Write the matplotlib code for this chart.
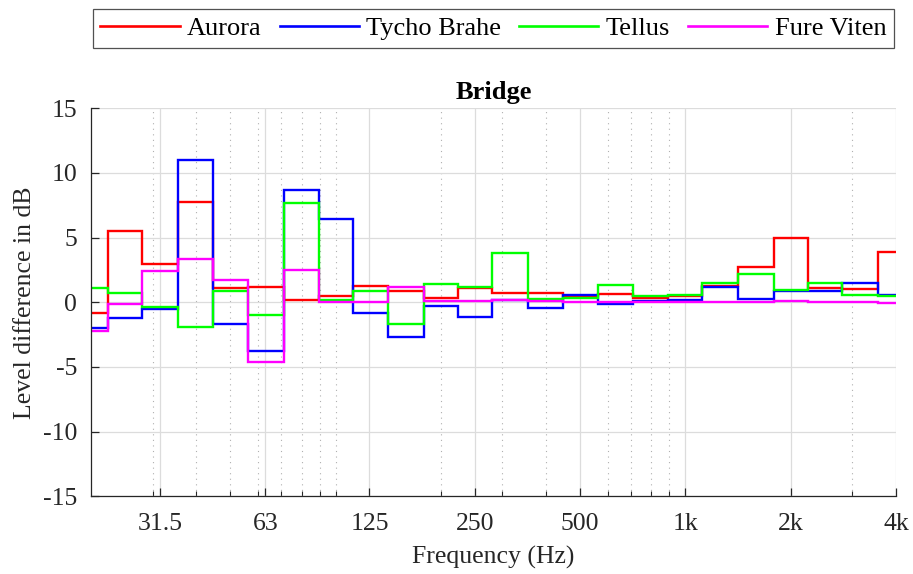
import numpy as np
import matplotlib
matplotlib.use("Agg")
import matplotlib.pyplot as plt
from matplotlib.ticker import FixedLocator, NullFormatter

plt.rcParams['font.family'] = ['Liberation Serif', 'DejaVu Serif']
plt.rcParams['axes.unicode_minus'] = False

# Third-octave band centre frequencies (Hz)
bands = [20, 25, 31.5, 40, 50, 63, 80, 100, 125, 160, 200, 250, 315, 400,
         500, 630, 800, 1000, 1250, 1600, 2000, 2500, 3150, 4000]

# Level difference per band (dB)
aurora = [-0.8, 5.5, 3.0, 7.75, 1.1, 1.15, 0.2, 0.5, 1.25, 0.85, 0.35, 1.1,
          0.75, 0.75, 0.45, 0.65, 0.3, 0.45, 1.25, 2.7, 4.95, 1.1, 1.05, 3.9]
tycho_brahe = [-2.0, -1.25, -0.55, 11.0, -1.7, -3.75, 8.65, 6.45, -0.8, -2.7,
               -0.3, -1.1, 0.15, -0.45, 0.6, -0.15, 0.1, 0.2, 1.15, 0.25,
               0.85, 0.85, 1.5, 0.6]
tellus = [1.1, 0.7, -0.4, -1.9, 0.9, -1.0, 7.7, 0.2, 0.85, -1.7, 1.4, 1.2,
          3.85, 0.25, 0.3, 1.35, 0.5, 0.6, 1.5, 2.15, 0.95, 1.5, 0.55, 0.5]
fure_viten = [-2.2, -0.15, 2.4, 3.35, 1.75, -4.6, 2.5, 0.05, 0.05, 1.2, 0.1,
              0.1, 0.15, 0.1, 0.0, 0.0, 0.0, 0.0, 0.05, 0.05, 0.1, 0.05,
              0.05, -0.05]

series_names = ["Aurora", "Tycho Brahe", "Tellus", "Fure Viten"]
series_colors = ["#ff0000", "#0000ff", "#00ff00", "#ff00ff"]

tick_freqs = [31.5, 63, 125, 250, 500, 1000, 2000, 4000]
tick_labels = ["31.5", "63", "125", "250", "500", "1k", "2k", "4k"]
minor_freqs = [30, 40, 50, 60, 70, 80, 90, 100, 200, 300, 400, 600, 700,
               800, 900, 3000]

# Band edges: geometric means between neighbouring centres
c = np.array(bands, dtype=float)
inner = np.sqrt(c[:-1] * c[1:])
edges = np.concatenate([[c[0] / 2 ** (1 / 6)], inner, [c[-1] * 2 ** (1 / 6)]])

fig = plt.figure(figsize=(9.13, 5.74), dpi=100)
ax = fig.add_axes([0.0997, 0.1354, 0.8817, 0.6759])

for vals, name, col in zip([aurora, tycho_brahe, tellus, fure_viten],
                           series_names, series_colors):
    ax.stairs(vals, edges, color=col, linewidth=1.7, label=name,
              baseline=None)

ax.set_xscale("log")
ax.set_xlim(20, 4000)
ax.set_ylim(-15, 15)
ax.set_yticks([-15, -10, -5, 0, 5, 10, 15])

ax.xaxis.set_major_locator(FixedLocator(tick_freqs))
ax.set_xticklabels(tick_labels)
ax.xaxis.set_minor_locator(FixedLocator(minor_freqs))
ax.xaxis.set_minor_formatter(NullFormatter())

ax.grid(True, which="major", color="#dcdcdc", linewidth=0.9)
ax.grid(True, which="minor", axis="x", color="#b0b0b0", linewidth=0.8,
        linestyle=(0, (1, 4)))
ax.set_axisbelow(True)

for s in ["top", "right"]:
    ax.spines[s].set_visible(False)
for s in ["left", "bottom"]:
    ax.spines[s].set_color("#262626")
    ax.spines[s].set_linewidth(0.9)

ax.tick_params(which="major", direction="in", length=6, width=0.9,
               color="#262626", labelsize=18.5, labelcolor="#262626")
ax.tick_params(axis="x", which="major", pad=12)
ax.tick_params(axis="y", which="major", pad=10)
ax.tick_params(which="minor", direction="in", length=3.5, width=0.8,
               color="#262626")

ax.set_xlabel("Frequency (Hz)", fontsize=18.5, color="#262626", labelpad=8)
ax.set_ylabel("Level difference in dB", fontsize=18.5, color="#262626",
              labelpad=5)
ax.set_title("Bridge", fontsize=19, fontweight="bold", pad=7)

leg = fig.legend(*ax.get_legend_handles_labels(), loc="center",
                 bbox_to_anchor=(0.5403, 1 - 28.5 / 574), ncol=4,
                 fontsize=19, frameon=True, fancybox=False,
                 handlelength=3.0, handletextpad=0.28, columnspacing=0.68,
                 borderpad=0.3, borderaxespad=0)
leg.get_frame().set_edgecolor("#262626")
leg.get_frame().set_linewidth(0.9)
for line in leg.get_lines():
    line.set_linewidth(1.9)

fig.savefig("out.png", dpi=100)
